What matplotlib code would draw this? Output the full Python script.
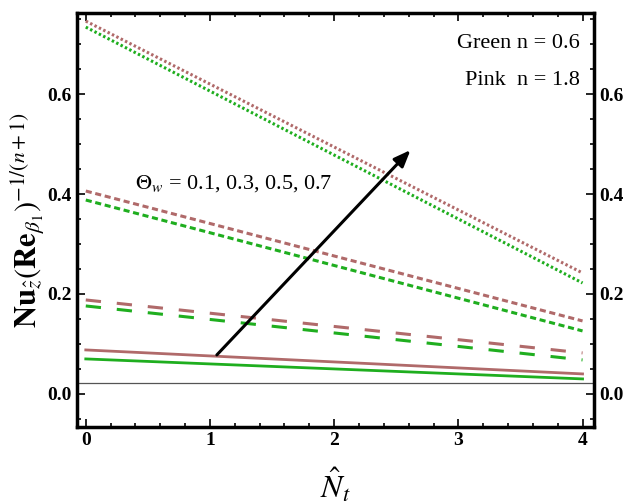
import matplotlib
matplotlib.use("Agg")
import matplotlib.pyplot as plt
import numpy as np

plt.rcParams['font.family'] = ['Liberation Serif', 'DejaVu Serif']
plt.rcParams['mathtext.fontset'] = 'stix'

# Nt values where curves are read
nt = [0, 2, 4]

# n = 0.6 (green), n = 1.8 (pink); Theta_w = 0.1, 0.3, 0.5, 0.7
green = {
    0.1: [0.070, 0.050, 0.030],
    0.3: [0.176, 0.122, 0.068],
    0.5: [0.388, 0.257, 0.126],
    0.7: [0.734, 0.478, 0.222],
}
pink = {
    0.1: [0.088, 0.064, 0.040],
    0.3: [0.188, 0.135, 0.082],
    0.5: [0.406, 0.276, 0.146],
    0.7: [0.746, 0.494, 0.242],
}

styles = {
    0.1: dict(linestyle='-', lw=2.0),
    0.3: dict(linestyle=(0, (5.0, 5.2)), lw=2.2),
    0.5: dict(linestyle=(0, (2.0, 1.2)), lw=2.2),
    0.7: dict(linestyle=(0, (0.8, 0.8)), lw=2.2),
}

c_green = '#1fae1f'
c_pink = '#b06a6a'

fig = plt.figure(figsize=(6.35, 5.04), dpi=100)
ax = fig.add_axes([0.121, 0.153, 0.814, 0.821])

for th in [0.1, 0.3, 0.5, 0.7]:
    ax.plot(nt, green[th], color=c_green, **styles[th])
    ax.plot(nt, pink[th], color=c_pink, **styles[th])

ax.axhline(0.022, color='#555555', lw=0.9)

ax.annotate('', xy=(2.63, 0.492), xytext=(1.04, 0.074),
            arrowprops=dict(arrowstyle='-|>,head_length=1.0,head_width=0.4',
                            color='black', lw=2.2))
ax.text(0.4, 0.42, r'$\Theta_w$ = 0.1, 0.3, 0.5, 0.7', fontsize=16, va='center')
ax.text(3.98, 0.702, 'Green n = 0.6', fontsize=16, ha='right', va='center')
ax.text(3.98, 0.627, 'Pink  n = 1.8', fontsize=16, ha='right', va='center')

ax.set_xlim(-0.072, 4.09)
ax.set_ylim(-0.066, 0.762)
ax.set_xticks([0, 1, 2, 3, 4])
ax.set_xticks(np.arange(0, 4.01, 0.2), minor=True)
ax.set_yticks([0.0, 0.2, 0.4, 0.6])
ax.set_yticks(np.arange(-0.05, 0.76, 0.05), minor=True)
ax.yaxis.set_major_formatter(matplotlib.ticker.FormatStrFormatter('%.1f'))
ax.tick_params(which='both', direction='in', top=True, right=True,
               labelright=True, width=1.2)
ax.tick_params(which='major', length=6, labelsize=14, pad=4)
ax.tick_params(which='minor', length=3)
for tl in ax.get_xticklabels() + ax.yaxis.get_majorticklabels():
    tl.set_fontweight('bold')
for s in ax.spines.values():
    s.set_linewidth(2.5)

ax.set_xlabel(r'$\hat{N}_t$', fontsize=23, labelpad=12)
ax.set_ylabel(r'$\mathbf{Nu}_{\hat{z}}(\mathbf{Re}_{\beta_1})^{-1/(n+1)}$',
              fontsize=22, labelpad=0)

fig.savefig('out.png', dpi=100)
